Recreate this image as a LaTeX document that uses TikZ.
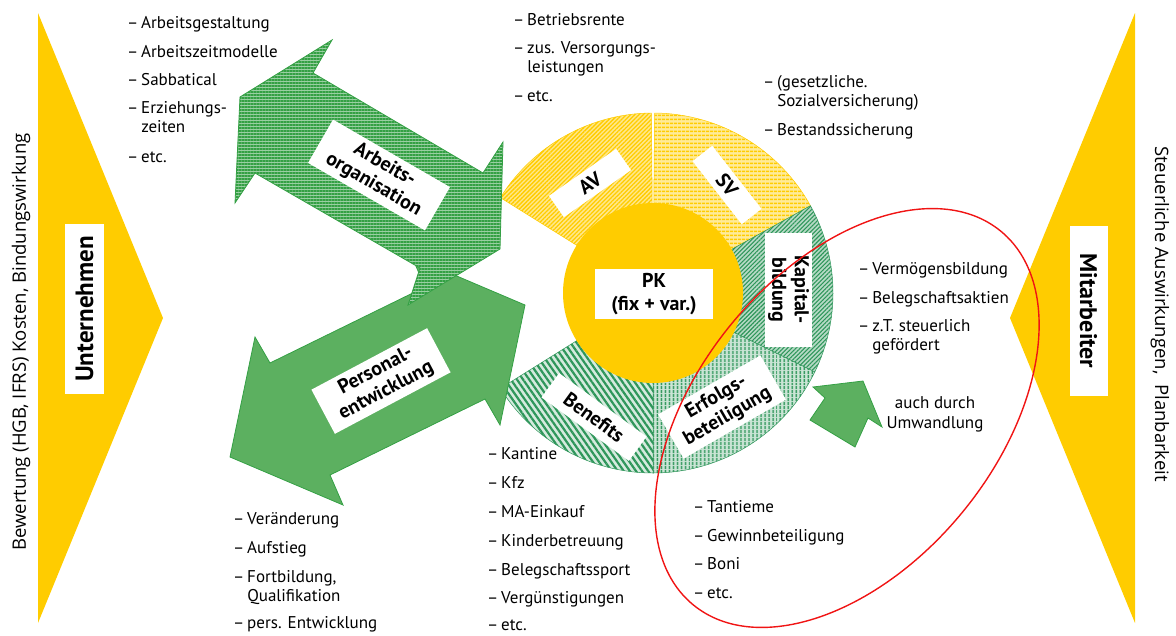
\documentclass[tikz,border=0pt]{standalone}
\usepackage{fontspec}
\setmainfont{PT Sans}
\newfontfamily\sidefont{Open Sans}
\usetikzlibrary{patterns.meta}
\definecolor{gold}{RGB}{255,204,0}
\definecolor{agreen}{RGB}{52,160,68}
\definecolor{pgreen}{RGB}{46,150,90}
\definecolor{xgreen}{RGB}{92,176,96}
\definecolor{ellred}{RGB}{240,20,20}
\begin{document}
\begin{tikzpicture}[x=1pt,y=1pt,
  lab/.style={fill=white, inner sep=0pt, align=center, font=\bfseries\fontsize{20}{22.5}\selectfont},
  item/.style={anchor=base west, inner sep=0pt, font=\fontsize{17}{19.5}\selectfont},
  wedge/.style={line width=0.5pt},
  side/.style={inner sep=0pt, font=\sidefont\fontsize{18.5}{22}\selectfont}]
\useasboundingbox (0,0) rectangle (1176,-635);

% big triangles
\fill[gold] (38,-13) -- (163,-318) -- (38,-623) -- cycle;
\fill[gold] (1135,-13) -- (1010,-318) -- (1135,-623) -- cycle;

% pie
\coordinate (C) at (653,-293);
\path[wedge, draw=gold, preaction={fill=gold!45!white}, pattern={Lines[angle=45,distance=3pt,line width=1.3pt]}, pattern color=gold]
  (C) -- ++(148:180pt) arc[start angle=148, end angle=90.5, radius=180pt] -- cycle;
\path[wedge, draw=gold, preaction={fill=gold!40!white}, pattern={Lines[angle=0,distance=4pt,line width=1.8pt]}, pattern color=gold]
  (C) -- ++(89.5:180pt) arc[start angle=89.5, end angle=29, radius=180pt] -- cycle;
\path[wedge, draw=pgreen, preaction={fill=pgreen!35!white}, pattern={Lines[angle=45,distance=3pt,line width=1.1pt]}, pattern color=pgreen]
  (C) -- ++(29:180pt) arc[start angle=29, end angle=-26, radius=180pt] -- cycle;
\path[wedge, draw=pgreen, preaction={fill=pgreen!25!white}, pattern={Lines[angle=90,distance=4pt,line width=1.6pt]}, pattern color=pgreen]
  (C) -- ++(-26:180pt) arc[start angle=-26, end angle=-90, radius=180pt] -- cycle;
\path[wedge, draw=pgreen, preaction={fill=pgreen!20!white}, pattern={Lines[angle=-55,distance=5pt,line width=2.2pt]}, pattern color=pgreen]
  (C) -- ++(-90:180pt) arc[start angle=-90, end angle=-148, radius=180pt] -- cycle;
\fill[gold] (C) circle[radius=90pt];

% arrows
\filldraw[fill=xgreen, draw=agreen, line width=0.8pt]
  (230,-457) -- (255,-337) -- (270,-363) -- (425,-287) -- (412,-257) -- (525,-305)
  -- (500,-425) -- (485,-399) -- (330,-475) -- (343,-505) -- cycle;
\path[draw=agreen, line width=0.8pt, preaction={fill=agreen!50!white}, pattern={Lines[angle=0,distance=3pt,line width=1.8pt]}, pattern color=agreen]
  (332,-40) -- (313,-73) -- (483,-173) -- (503,-142) -- (500,-249)
  -- (408,-305) -- (420,-268) -- (255,-173) -- (235,-203) -- (240,-97) -- cycle;
\filldraw[fill=xgreen, draw=agreen, line width=0.8pt]
  (813,-387) -- (863,-381) -- (882,-427) -- (868,-418) -- (855,-447) -- (810,-420) -- (825,-398) -- cycle;

% labels
\node[lab, rotate=-30, minimum width=135pt, minimum height=50pt] (arb) at (379,-175) {Arbeits-\\organisation};
\node[lab, rotate=28, minimum width=131pt, minimum height=50pt] (pers) at (381,-381) {Personal-\\entwicklung};
\node[lab, rotate=35, minimum width=82pt, minimum height=26pt] (av) at (590,-183) {AV};
\node[lab, rotate=-52, minimum width=80pt, minimum height=25pt] (sv) at (727,-185) {SV};
\node[lab, rotate=-90, minimum width=114pt, minimum height=47pt] (kap) at (788.5,-290) {Kapital-\\bildung};
\node[lab, rotate=30, minimum width=118pt, minimum height=51pt] (erf) at (722,-407) {Erfolgs-\\beteiligung};
\node[lab, rotate=-36, minimum width=108pt, minimum height=30pt] (ben) at (594,-417) {Benefits};
\node[lab, minimum width=118pt, minimum height=50pt] (pk) at (654,-294) {PK\\(fix + var.)};
\node[lab, rotate=90, minimum width=170pt, minimum height=39pt, font=\bfseries\fontsize{25}{27}\selectfont] (unt) at (84.5,-309) {Unternehmen};
\node[lab, rotate=-90, minimum width=170pt, minimum height=38pt, font=\bfseries\fontsize{24}{26}\selectfont] (mit) at (1088.5,-311) {Mitarbeiter};

% side texts
\node[side, rotate=90] (bew) at (21,-342) {Bewertung (HGB, IFRS) Kosten, Bindungswirkung};
\node[side, rotate=-90] (steu) at (1160,-314) {Steuerliche Auswirkungen,\ \ Planbarkeit};

% lists: top left
\node[item] (tl1) at (127,-28) {–\,Arbeitsgestaltung};
\node[item] (tl2) at (127,-57) {–\,Arbeitszeitmodelle};
\node[item] (tl3) at (127,-85) {–\,Sabbatical};
\node[item] (tl4) at (127,-113) {\begin{tabular}[t]{@{}l@{}}–\,Erziehungs-\\\hphantom{–\,}zeiten\end{tabular}};
\node[item] (tl5) at (127,-162) {–\,etc.};
% top middle
\node[item] (tm1) at (513,-25) {–\,Betriebsrente};
\node[item] (tm2) at (513,-53) {\begin{tabular}[t]{@{}l@{}}–\,zus. Versorgungs-\\\hphantom{–\,}leistungen\end{tabular}};
\node[item] (tm3) at (513,-101) {–\,etc.};
% top right
\node[item] (tr1) at (763,-87) {\begin{tabular}[t]{@{}l@{}}–\,(gesetzliche.\\\hphantom{–\,}Sozialversicherung)\end{tabular}};
\node[item] (tr2) at (763,-135) {–\,Bestandssicherung};
% right middle
\node[item] (rm1) at (858,-274) {–\,Vermögensbildung};
\node[item] (rm2) at (858,-303) {–\,Belegschaftsaktien};
\node[item] (rm3) at (858,-331) {\begin{tabular}[t]{@{}l@{}}–\,z.T. steuerlich\\\hphantom{–\,}gefördert\end{tabular}};
\node[item, anchor=base, align=center] (umw) at (935,-428) {auch durch\\Umwandlung};
% bottom right
\node[item] (br1) at (693,-512) {–\,Tantieme};
\node[item] (br2) at (693,-541) {–\,Gewinnbeteiligung};
\node[item] (br3) at (693,-569) {–\,Boni};
\node[item] (br4) at (693,-598) {–\,etc.};
% bottom middle
\node[item] (bm1) at (487,-459) {–\,Kantine};
\node[item] (bm2) at (487,-488) {–\,Kfz};
\node[item] (bm3) at (487,-517) {–\,MA-Einkauf};
\node[item] (bm4) at (487,-546) {–\,Kinderbetreuung};
\node[item] (bm5) at (487,-575) {–\,Belegschaftssport};
\node[item] (bm6) at (487,-603) {–\,Vergünstigungen};
\node[item] (bm7) at (487,-630) {–\,etc.};
% bottom left
\node[item] (bl1) at (233,-524) {–\,Veränderung};
\node[item] (bl2) at (233,-553) {–\,Aufstieg};
\node[item] (bl3) at (233,-582) {\begin{tabular}[t]{@{}l@{}}–\,Fortbildung,\\\hphantom{–\,}Qualifikation\end{tabular}};
\node[item] (bl4) at (233,-628) {–\,pers. Entwicklung};

% red ellipse
\draw[ellred, line width=1.4pt, rotate around={50.5:(847,-418)}] (847,-418) ellipse[x radius=242pt, y radius=149pt];
\end{tikzpicture}
\end{document}
